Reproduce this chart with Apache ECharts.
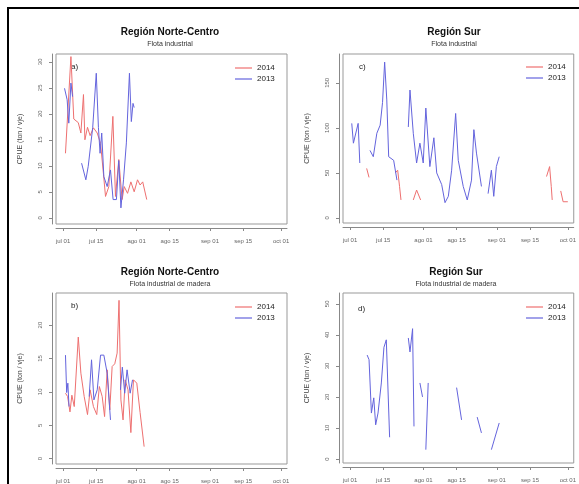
<!DOCTYPE html>
<html>
<head>
<meta charset="utf-8">
<script src="https://cdn.jsdelivr.net/npm/echarts@6/dist/echarts.min.js"></script>
<style>html,body{margin:0;padding:0;background:#fff}#c{width:579px;height:484px}</style>
</head>
<body>
<div id="c"></div>
<script>
// X axis: days since 1 July (2013 and 2014 overlaid on the same calendar)
const tickDays = [0, 14, 31, 45, 62, 76, 92];
const tickLabels = ['jul 01', 'jul 15', 'ago 01', 'ago 15', 'sep 01', 'sep 15', 'oct 01'];

// Y ticks per panel
const yTicksA = [0, 5, 10, 15, 20, 25, 30];
const yTicksC = [0, 50, 100, 150];
const yTicksB = [0, 5, 10, 15, 20];
const yTicksD = [0, 10, 20, 30, 40, 50];

// a) Región Norte-Centro, Flota industrial
const a2014 = [[1.0,12.4],[3.3,31],[4.5,19],[6.4,18.3],[7.5,16.3],[8.6,23.7],[9.2,15],[10.3,17.4],[11.4,15.8],[12.8,17.3],[14.4,16.3],[15.8,14.3],[17,8.6],[17.9,4.1],[19.3,6],[21,19.5],[22.1,4.1],[23.5,11.2],[24.9,3.5],[25.8,6],[27.2,4.7],[28.6,6.9],[30,5],[31.4,7.3],[32.5,6.3],[33.6,6.9],[35.3,3.5]];
const a2013 = [[0.6,24.9],[1.7,22.7],[2.4,18.2],[3.3,25.9],[4,23.3],null,[7.8,10.5],[9.6,7.3],[10.6,9.9],[12.5,17.4],[14,27.8],[14.9,17.4],[15.6,12.4],[16.3,16.3],[17.2,7.9],[18.6,6],[20,9.2],[21.1,3.5],[22.5,3.5],[23.5,11],[24.4,1.9],[25.5,7.3],[26.7,14.4],[28,27.8],[28.8,18.5],[29.5,22],[30,21.2]];

// c) Región Sur, Flota industrial
const c2014 = [[7,55],[8,45],null,[19.1,50],[20.1,53],[20.9,35],[21.5,20],null,[26.7,20],[28.1,31],[29.8,20],null,[83,46],[84.3,57],[85,35],[85.4,20],null,[89,30],[90,18],[92,18]];
const c2013 = [[0.7,105],[1.4,83],[3.4,105],[4.1,61],null,[8.4,75],[9.8,68],[11.3,94],[12.7,103],[13.7,128],[14.6,173],[15.5,131],[16.3,68],[18.4,64],[19.8,42],null,[24.6,101],[25.3,142],[26.7,94],[28.1,61],[29.5,83],[30.9,61],[32,122],[33.7,57],[35.4,89],[36.6,50],[38.7,37],[40.1,17],[41.5,24],[42.9,53],[44.6,116],[45.7,64],[47.8,35],[49.5,20],[51.3,42],[52.3,98],[53.4,72],[55.5,35],null,[58.3,27],[59.7,53],[60.7,24],[61.8,57],[63,68]];

// b) Región Norte-Centro, Flota industrial de madera
const b2014 = [[1,9.8],[1.9,9.3],[2.9,7],[3.7,9.5],[4.7,7.8],[6.4,18.2],[7.5,12.8],[8.9,9.3],[10.3,6.6],[11.4,10.3],[12.8,7.8],[14.2,6.6],[15.3,10.8],[16.5,9.3],[17.5,6.3],[18.6,13.3],[19.7,7.3],[20.7,13.8],[21.8,14.2],[22.8,15.8],[23.6,23.7],[24.4,8.8],[25.3,5.8],[26.2,11.8],[27.4,10.3],[28.6,3.9],[29.7,11.8],[31.1,11.3],[32.5,6.9],[34.2,1.8]];
const b2013 = [[1,15.5],[1.5,9.9],[2,11.3],[2.5,7.8],null,[11,9.3],[12,14.8],[13,8.8],[14.4,10.3],[15.8,15.5],[17.2,15.5],[18.6,12.8],[20,5.8],null,[24.2,10.3],[25,13.7],[26,9.8],[27,13.3],[28.3,9.8],[29.3,11.8]];

// d) Región Sur, Flota industrial de madera
const d2014 = [];
const d2013 = [[7.2,33.5],[8,32],[9,14.8],[10,19.7],[10.8,11],[11.8,14.8],[13.2,24.5],[14.3,36],[15.3,38.4],[16.7,7],null,[24.6,39],[25.3,34.5],[26.4,42],[27,10.5],null,[29.5,24.5],[30.6,20],null,[32,3],[33,24.5],null,[45,23],[47.1,12.6],null,[53.7,13.5],[55.5,8.4],null,[59.7,3],[63,11.6]];

const RED = '#ee7070';
const BLUE = '#6464dd';
const FONT = 'Liberation Sans, Arial, sans-serif';
const prep = arr => arr.map(p => p === null ? ['-', '-'] : p);

const panels = [
  { title: 'Región Norte-Centro', sub: 'Flota industrial', tag: 'a)', d14: a2014, d13: a2013, ticks: yTicksA, ymin: -1.2, ymax: 31.5,
    grid: { left: 56, top: 54, width: 231, height: 170 }, tx: 170, ty: 26, lx: 235, ly: 64, gx: 75, gy: 68 },
  { title: 'Región Sur', sub: 'Flota industrial', tag: 'c)', d14: c2014, d13: c2013, ticks: yTicksC, ymin: -5.6, ymax: 182,
    grid: { left: 343, top: 54, width: 232, height: 169 }, tx: 454, ty: 26, lx: 526, ly: 63, gx: 363, gy: 68 },
  { title: 'Región Norte-Centro', sub: 'Flota industrial de madera', tag: 'b)', d14: b2014, d13: b2013, ticks: yTicksB, ymin: -0.8, ymax: 24.8,
    grid: { left: 56, top: 293, width: 231, height: 171 }, tx: 170, ty: 266, lx: 235, ly: 303, gx: 75, gy: 307 },
  { title: 'Región Sur', sub: 'Flota industrial de madera', tag: 'd)', d14: d2014, d13: d2013, ticks: yTicksD, ymin: -1.3, ymax: 53.5,
    grid: { left: 343, top: 293, width: 232, height: 170 }, tx: 456, ty: 266, lx: 526, ly: 303, gx: 362, gy: 310 }
];

const option = {
  animation: false,
  backgroundColor: '#fff',
  textStyle: { fontFamily: FONT },
  title: panels.map(p => ({
    text: p.title, subtext: p.sub, left: p.tx, top: p.ty, textAlign: 'center', itemGap: 2, padding: 0,
    textStyle: { fontSize: 10, fontWeight: 'bold', color: '#111', lineHeight: 12, fontFamily: FONT },
    subtextStyle: { fontSize: 7, color: '#333', lineHeight: 9, fontFamily: FONT }
  })),
  legend: panels.map(p => ({
    data: [{ name: '2014', icon: 'rect' }, { name: '2013', icon: 'rect' }],
    orient: 'vertical', left: p.lx, top: p.ly, itemWidth: 17, itemHeight: 1.2, itemGap: 3,
    padding: 0, selectedMode: false,
    textStyle: { fontSize: 8, color: '#222', lineHeight: 8, fontFamily: FONT }
  })),
  grid: panels.map(p => Object.assign({ show: true, borderColor: '#999', borderWidth: 1, backgroundColor: 'transparent', containLabel: false }, p.grid)),
  xAxis: panels.map((p, i) => ({
    type: 'value', gridIndex: i, min: -3, max: 94.5, position: 'bottom', offset: 4,
    splitLine: { show: false },
    axisLine: { show: true, onZero: false, lineStyle: { color: '#888', width: 1 } },
    axisTick: { show: true, customValues: tickDays, length: 3, lineStyle: { color: '#888' } },
    axisLabel: { customValues: tickDays, fontSize: 6, color: '#666', margin: 10,
      formatter: v => tickLabels[tickDays.indexOf(Math.round(v))] || '' }
  })),
  yAxis: panels.map((p, i) => ({
    type: 'value', gridIndex: i, min: p.ymin, max: p.ymax, position: 'left', offset: 4,
    name: 'CPUE (ton / vje)', nameLocation: 'middle', nameGap: 28, nameRotate: 90,
    nameTextStyle: { fontSize: 7, color: '#444', fontFamily: FONT },
    splitLine: { show: false },
    axisLine: { show: true, onZero: false, lineStyle: { color: '#888', width: 1 } },
    axisTick: { show: true, customValues: p.ticks, length: 3, lineStyle: { color: '#888' } },
    axisLabel: { customValues: p.ticks, fontSize: 6, color: '#666', margin: 9, rotate: 90 }
  })),
  series: panels.flatMap((p, i) => [
    { name: '2014', type: 'line', xAxisIndex: i, yAxisIndex: i, data: prep(p.d14), symbol: 'none',
      lineStyle: { color: RED, width: 1 }, itemStyle: { color: RED }, connectNulls: false },
    { name: '2013', type: 'line', xAxisIndex: i, yAxisIndex: i, data: prep(p.d13), symbol: 'none',
      lineStyle: { color: BLUE, width: 1 }, itemStyle: { color: BLUE }, connectNulls: false }
  ]),
  graphic: [
    { type: 'rect', shape: { x: 8, y: 8, width: 620, height: 620 }, style: { fill: 'none', stroke: '#000', lineWidth: 2 }, silent: true }
  ].concat(panels.map(p => ({
    type: 'text', left: p.gx - 4, top: p.gy - 5,
    style: { text: p.tag, fontSize: 8, fill: '#222', fontFamily: FONT }
  })))
};

const chart = echarts.init(document.getElementById('c'), null, { renderer: 'canvas' });
chart.setOption(option);
</script>
</body>
</html>
